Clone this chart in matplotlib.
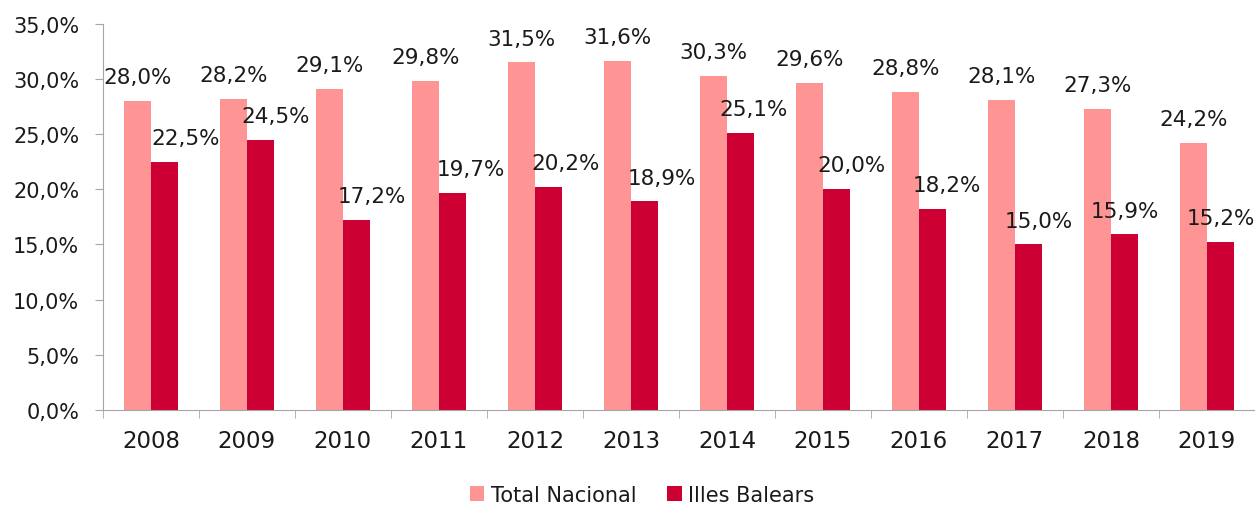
import numpy as np
import matplotlib
matplotlib.use('Agg')
from matplotlib import pyplot as plt
from matplotlib.ticker import FuncFormatter

# Datos
anios = ['2008', '2009', '2010', '2011', '2012', '2013', '2014', '2015', '2016', '2017', '2018', '2019']
total_nacional = [28.0, 28.2, 29.1, 29.8, 31.5, 31.6, 30.3, 29.6, 28.8, 28.1, 27.3, 24.2]
illes_balears = [22.5, 24.5, 17.2, 19.7, 20.2, 18.9, 25.1, 20.0, 18.2, 15.0, 15.9, 15.2]

# desplazamiento horizontal (px) de las etiquetas de Illes Balears, como en el original
desp_etiq = [21, 15, 16, 18, 17, 17, 13, 15, 14, 10, 0, 0]

plt.rcParams['font.family'] = ['DejaVu Sans']

def pct(v):
    return '{:.1f}%'.format(v).replace('.', ',')

fig = plt.figure(figsize=(12.55, 5.06), dpi=100)
ax = fig.add_axes([0.082, 0.188, 0.918, 0.763])

x = np.arange(len(anios))
w = 0.28
ax.bar(x - w / 2, total_nacional, w, color='#FF9494', label='Total Nacional')
ax.bar(x + w / 2, illes_balears, w, color='#CC0033', label='Illes Balears')

for xi, v in zip(x - w / 2, total_nacional):
    ax.annotate(pct(v), (xi, v), xytext=(0, 10), textcoords='offset points',
                ha='center', va='bottom', fontsize=15.5, color='#1a1a1a')
for xi, v, d in zip(x + w / 2, illes_balears, desp_etiq):
    ax.annotate(pct(v), (xi, v), xytext=(d * 0.72, 10), textcoords='offset points',
                ha='center', va='bottom', fontsize=15.5, color='#1a1a1a')

ax.set_ylim(0, 35)
ax.set_xlim(-0.5, len(anios) - 0.5)
ax.set_yticks(np.arange(0, 36, 5))
ax.yaxis.set_major_formatter(FuncFormatter(lambda v, p: pct(v)))
ax.set_xticks(x)
ax.set_xticklabels(anios)
ax.set_xticks(np.arange(-0.5, len(anios), 1), minor=True)
ax.tick_params(axis='x', which='major', length=0, pad=14, labelsize=16.5, labelcolor='#1a1a1a')
ax.tick_params(axis='x', which='minor', length=6, color='#A6A6A6')
ax.tick_params(axis='y', length=6, color='#A6A6A6', labelsize=15, pad=11, labelcolor='#1a1a1a')

for s in ['top', 'right']:
    ax.spines[s].set_visible(False)
for s in ['left', 'bottom']:
    ax.spines[s].set_color('#A6A6A6')

ax.legend(loc='center', bbox_to_anchor=(0.468, -0.22), ncol=2, frameon=False,
          fontsize=15, handlelength=0.7, handleheight=0.7, handletextpad=0.3, columnspacing=1.5,
          labelcolor='#1a1a1a')

fig.savefig('out.png', dpi=100)
